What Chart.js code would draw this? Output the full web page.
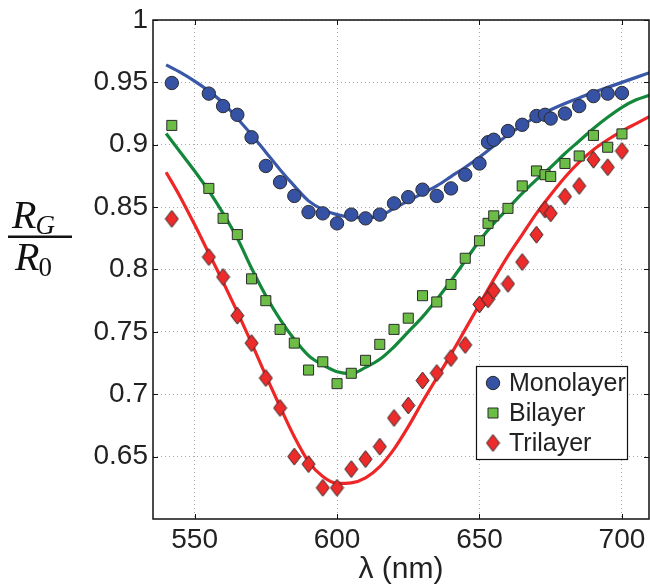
<!DOCTYPE html>
<html><head><meta charset="utf-8">
<script src="https://cdn.jsdelivr.net/npm/chart.js@4.4.0/dist/chart.umd.min.js"></script>
<style>html,body{margin:0;padding:0;background:#fff}#wrap{width:650px;height:584px}</style>
</head><body><div id="wrap"><canvas id="c" width="650" height="584"></canvas></div>
<script>
// ---- data ----
const wavelengths = [542,555,560,565,570,575,580,585,590,595,600,605,610,615,620,625,630,635,640,645,650,653,655,660,665,670,673,675,680,685,690,695,700];
const monolayer = [0.9495,0.941,0.931,0.924,0.906,0.883,0.870,0.859,0.846,0.845,0.837,0.844,0.841,0.844,0.853,0.858,0.864,0.859,0.865,0.876,0.885,0.902,0.904,0.911,0.916,0.923,0.924,0.921,0.925,0.931,0.939,0.941,0.9415];
const bilayer = [0.9155,0.865,0.841,0.828,0.7925,0.775,0.752,0.741,0.7194,0.726,0.7085,0.7168,0.7272,0.740,0.752,0.761,0.779,0.774,0.788,0.809,0.823,0.837,0.843,0.849,0.867,0.879,0.876,0.8746,0.885,0.891,0.9075,0.898,0.9087];
const trilayer = [0.8406,0.810,0.794,0.763,0.741,0.713,0.689,0.650,0.644,0.625,0.625,0.640,0.648,0.658,0.681,0.691,0.711,0.717,0.729,0.7395,0.772,0.776,0.783,0.7885,0.806,0.8279,0.848,0.845,0.8585,0.867,0.888,0.882,0.895];

const fitWavelengths = [540,545,550,555,560,565,570,575,580,585,590,595,600,605,610,615,620,625,630,635,640,645,650,655,660,665,670,675,680,685,690,695,700,705,710];
const monolayerFit = [0.964,0.958,0.951,0.943,0.9335,0.921,0.908,0.894,0.880,0.867,0.855,0.848,0.844,0.842,0.8415,0.843,0.849,0.855,0.861,0.867,0.8745,0.882,0.890,0.899,0.908,0.9155,0.9225,0.928,0.933,0.9375,0.942,0.946,0.950,0.954,0.958];
const bilayerFit = [0.909,0.894,0.879,0.863,0.845,0.825,0.801,0.779,0.760,0.744,0.731,0.7235,0.718,0.7165,0.7215,0.728,0.738,0.750,0.762,0.776,0.791,0.807,0.823,0.837,0.849,0.861,0.872,0.882,0.893,0.903,0.913,0.922,0.930,0.936,0.940];
const trilayerFit = [0.878,0.858,0.836,0.813,0.790,0.766,0.741,0.715,0.690,0.666,0.646,0.634,0.6285,0.629,0.633,0.642,0.656,0.674,0.694,0.713,0.732,0.752,0.772,0.792,0.811,0.828,0.845,0.860,0.874,0.886,0.896,0.904,0.911,0.917,0.923];

const seriesNames = ['Monolayer','Bilayer','Trilayer'];
const xTickValues = [550,600,650,700];
const yTickValues = [0.65,0.7,0.75,0.8,0.85,0.9,0.95,1];
const yTickLabels = ['0.65','0.7','0.75','0.8','0.85','0.9','0.95','1'];
const xTitle = 'λ (nm)';

// ---- styles ----
const BLUE = '#3652a5', BLUE_LINE = '#3a58a8';
const GREEN = '#6bbd45', GREEN_LINE = '#14883a';
const RED = '#ee2b2b', RED_LINE = '#ef2626';
const EDGE = '#2b2b2b';
const FONT = '"Liberation Sans", Arial, Helvetica, sans-serif';

function makeDiamond(w, h, fill, stroke) {
  const c = document.createElement('canvas');
  c.width = w + 2; c.height = h + 2;
  const g = c.getContext('2d');
  g.beginPath();
  g.moveTo(c.width / 2, 1);
  g.lineTo(c.width - 1, c.height / 2);
  g.lineTo(c.width / 2, c.height - 1);
  g.lineTo(1, c.height / 2);
  g.closePath();
  g.fillStyle = fill; g.fill();
  g.lineWidth = 1; g.strokeStyle = stroke; g.stroke();
  return c;
}
const diamond = makeDiamond(13, 17, RED, EDGE);

const toPts = (xs, ys) => xs.map((x, i) => ({x: x, y: ys[i]}));

const pointDefs = [
  {label: seriesNames[0], data: toPts(wavelengths, monolayer), pointStyle: 'circle', pointRadius: 6.7, backgroundColor: BLUE},
  {label: seriesNames[1], data: toPts(wavelengths, bilayer), pointStyle: 'rect', pointRadius: 7.1, backgroundColor: GREEN},
  {label: seriesNames[2], data: toPts(wavelengths, trilayer), pointStyle: diamond, pointRadius: 8, backgroundColor: RED}
].map(d => Object.assign(d, {showLine: false, borderColor: EDGE, pointBorderColor: EDGE, pointBackgroundColor: d.backgroundColor, pointBorderWidth: 1, pointHoverRadius: d.pointRadius}));

const lineDefs = [
  {label: seriesNames[0] + ' fit', data: toPts(fitWavelengths, monolayerFit), borderColor: BLUE_LINE},
  {label: seriesNames[1] + ' fit', data: toPts(fitWavelengths, bilayerFit), borderColor: GREEN_LINE},
  {label: seriesNames[2] + ' fit', data: toPts(fitWavelengths, trilayerFit), borderColor: RED_LINE}
].map(d => Object.assign(d, {showLine: true, pointRadius: 0, pointHoverRadius: 0, borderWidth: 3.2, cubicInterpolationMode: 'monotone', fill: false, clip: 0}));

const framePlugin = {
  id: 'frame',
  afterDraw(chart) {
    const ctx = chart.ctx, a = chart.chartArea;
    const xs = chart.scales.x, ys = chart.scales.y;
    ctx.save();
    ctx.strokeStyle = '#111'; ctx.lineWidth = 1;
    ctx.beginPath();
    xTickValues.forEach(v => {
      const p = Math.round(xs.getPixelForValue(v)) + 0.5;
      ctx.moveTo(p, a.bottom); ctx.lineTo(p, a.bottom - 5);
      ctx.moveTo(p, a.top); ctx.lineTo(p, a.top + 5);
    });
    yTickValues.forEach(v => {
      const p = Math.round(ys.getPixelForValue(v)) + 0.5;
      ctx.moveTo(a.left, p); ctx.lineTo(a.left + 5, p);
      ctx.moveTo(a.right, p); ctx.lineTo(a.right - 5, p);
    });
    ctx.stroke();
    ctx.lineWidth = 1.5; ctx.strokeStyle = '#111';
    ctx.strokeRect(a.left, a.top, a.right - a.left, a.bottom - a.top);

    // legend
    const lx = 476, ly = 366, lw = 151, lh = 93;
    ctx.fillStyle = '#fff';
    ctx.fillRect(lx, ly, lw, lh);
    ctx.lineWidth = 1.2; ctx.strokeStyle = '#111';
    ctx.strokeRect(lx + 0.5, ly + 0.5, lw, lh);
    const rows = [383, 413, 443], mx = 493;
    ctx.lineWidth = 1; ctx.strokeStyle = EDGE;
    ctx.beginPath(); ctx.arc(mx, rows[0], 6.7, 0, Math.PI * 2);
    ctx.fillStyle = BLUE; ctx.fill(); ctx.stroke();
    ctx.beginPath(); ctx.rect(mx - 5, rows[1] - 5, 10, 10);
    ctx.fillStyle = GREEN; ctx.fill(); ctx.stroke();
    ctx.drawImage(diamond, mx - diamond.width / 2, rows[2] - diamond.height / 2);
    ctx.fillStyle = '#222';
    ctx.font = '25px ' + FONT;
    ctx.textAlign = 'left'; ctx.textBaseline = 'middle';
    seriesNames.forEach((n, i) => ctx.fillText(n, 509, rows[i] + 1));

    // y-axis label as fraction R_G / R_0
    const serifI = (s) => 'italic ' + s + 'px "Liberation Serif", "DejaVu Serif", serif';
    const serif = (s) => s + 'px "Liberation Serif", "DejaVu Serif", serif';
    ctx.fillStyle = '#111';
    ctx.textBaseline = 'alphabetic';
    ctx.font = serifI(40);
    ctx.fillText('R', 12, 228);
    let w = ctx.measureText('R').width;
    ctx.font = serifI(27);
    ctx.fillText('G', 12 + w - 1, 234);
    ctx.fillRect(8, 235.5, 64, 2.5);
    ctx.font = serifI(40);
    ctx.fillText('R', 15, 270);
    w = ctx.measureText('R').width;
    ctx.font = serif(27);
    ctx.fillText('0', 15 + w - 1, 276);
    ctx.restore();
  }
};

new Chart(document.getElementById('c'), {
  type: 'scatter',
  data: {datasets: pointDefs.concat(lineDefs)},
  options: {
    responsive: false,
    animation: false,
    events: [],
    layout: {autoPadding: false, padding: {left: 0, top: 20, right: 1, bottom: 0}},
    plugins: {legend: {display: false}, tooltip: {enabled: false}, title: {display: false}},
    scales: {
      x: {
        type: 'linear', min: 535.4, max: 709.5,
        afterBuildTicks: s => { s.ticks = xTickValues.map(v => ({value: v})); },
        afterFit: s => { s.height = 65; s.paddingLeft = 0; s.paddingRight = 0; },
        ticks: {font: {size: 28, family: FONT}, color: '#222', padding: 4, maxRotation: 0, autoSkip: false},
        grid: {color: '#a8a8a8', lineWidth: 1, drawTicks: false},
        border: {display: false, dash: [1, 3]},
        title: {display: true, text: xTitle, font: {size: 30, family: FONT}, color: '#222', padding: {top: 0, bottom: -4}}
      },
      y: {
        type: 'linear', min: 0.6, max: 1,
        afterBuildTicks: s => { s.ticks = yTickValues.map(v => ({value: v})); },
        afterFit: s => { s.width = 153; s.paddingTop = 0; s.paddingBottom = 0; },
        ticks: {font: {size: 28, family: FONT}, color: '#222', padding: 5, autoSkip: false,
          callback: (v, i) => yTickLabels[i]},
        grid: {color: '#a8a8a8', lineWidth: 1, drawTicks: false},
        border: {display: false, dash: [1, 3]}
      }
    }
  },
  plugins: [framePlugin]
});
</script>
</body></html>
